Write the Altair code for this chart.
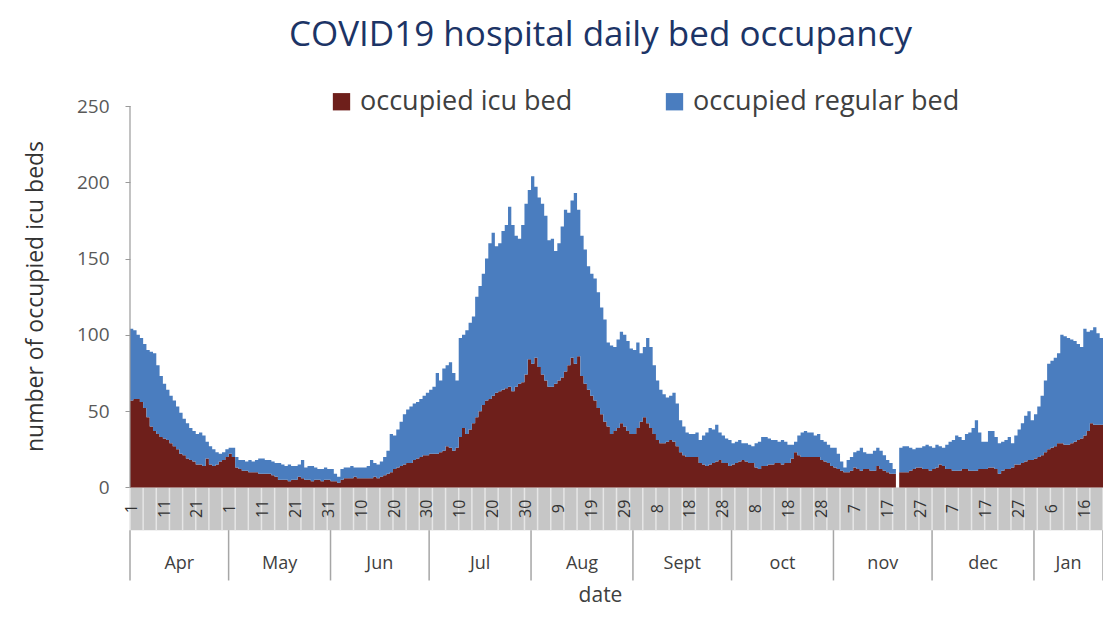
import altair as alt
import pandas as pd

# ---------------- data (one value per day, Apr 1 .. Jan 21) ----------------
icu = [
    57, 58, 58, 56, 52, 46, 40, 37, 35, 33,
    32, 31, 29, 27, 25, 22, 21, 19, 18, 17,
    15, 15, 14, 19, 15, 14, 15, 17, 18, 20,
    22, 20, 13, 12, 11, 11, 10, 10, 10, 9,
    9, 9, 9, 8, 7, 5, 5, 5, 4, 5,
    5, 7, 6, 5, 5, 4, 5, 5, 4, 5,
    5, 4, 4, 3, 5, 6, 6, 6, 7, 6,
    6, 6, 6, 6, 7, 6, 7, 8, 9, 10,
    12, 13, 14, 15, 16, 16, 18, 19, 20, 21,
    21, 22, 22, 22, 23, 24, 27, 26, 24, 26,
    33, 39, 35, 38, 42, 46, 50, 54, 57, 58,
    60, 62, 63, 64, 65, 66, 63, 66, 68, 69,
    74, 84, 81, 85, 79, 74, 70, 66, 66, 68,
    70, 72, 76, 80, 85, 81, 86, 73, 68, 64,
    60, 57, 52, 48, 43, 40, 35, 37, 39, 42,
    40, 37, 35, 35, 39, 43, 46, 42, 39, 35,
    31, 29, 29, 30, 31, 30, 27, 23, 21, 20,
    20, 20, 20, 16, 15, 14, 15, 16, 17, 18,
    16, 16, 14, 15, 16, 17, 18, 17, 16, 16,
    13, 12, 14, 14, 15, 15, 16, 16, 15, 16,
    16, 19, 23, 21, 20, 20, 20, 20, 20, 20,
    18, 17, 16, 14, 13, 12, 11, 10, 10, 11,
    13, 12, 11, 12, 12, 11, 11, 14, 12, 11,
    10, 9, 9, 0, 10, 10, 10, 11, 12, 13,
    13, 12, 12, 11, 12, 13, 15, 14, 12, 12,
    11, 11, 11, 12, 12, 11, 11, 11, 12, 12,
    12, 13, 13, 12, 9, 11, 12, 12, 13, 15,
    15, 16, 17, 18, 18, 19, 20, 21, 23, 25,
    26, 27, 29, 29, 28, 28, 29, 30, 31, 32,
    34, 37, 42, 41, 41, 41,
]

# top of the stack (icu + regular)
total_beds = [
    104, 103, 100, 98, 94, 90, 89, 88, 80, 73,
    68, 64, 60, 57, 53, 49, 45, 42, 39, 37,
    35, 36, 34, 30, 27, 25, 23, 22, 23, 25,
    26, 26, 20, 18, 18, 17, 18, 17, 18, 19,
    19, 18, 18, 17, 16, 16, 15, 14, 15, 14,
    14, 15, 18, 13, 14, 14, 13, 12, 12, 13,
    12, 12, 9, 7, 12, 13, 13, 14, 13, 13,
    13, 13, 14, 18, 16, 15, 17, 20, 24, 35,
    34, 38, 43, 48, 51, 53, 55, 56, 58, 60,
    62, 64, 66, 75, 70, 78, 80, 82, 75, 70,
    98, 100, 103, 108, 112, 125, 132, 140, 150, 160,
    167, 158, 160, 168, 172, 184, 172, 165, 163, 172,
    186, 195, 204, 197, 190, 186, 178, 162, 163, 155,
    160, 171, 182, 180, 188, 193, 182, 165, 156, 145,
    140, 137, 128, 118, 110, 95, 93, 92, 97, 102,
    100, 96, 91, 90, 95, 88, 92, 98, 92, 80,
    70, 64, 61, 59, 60, 62, 55, 44, 40, 36,
    35, 35, 36, 31, 34, 36, 39, 38, 41, 36,
    34, 32, 31, 29, 30, 31, 29, 29, 28, 27,
    29, 30, 33, 33, 32, 31, 31, 30, 31, 30,
    28, 28, 30, 34, 36, 37, 36, 36, 34, 35,
    31, 30, 28, 26, 26, 22, 17, 13, 18, 20,
    23, 24, 26, 23, 22, 22, 24, 26, 24, 21,
    18, 16, 12, 0, 26, 27, 27, 26, 25, 26,
    26, 27, 28, 27, 26, 28, 27, 26, 28, 30,
    31, 34, 33, 31, 35, 36, 39, 44, 36, 30,
    30, 37, 37, 33, 29, 30, 31, 33, 29, 34,
    38, 42, 47, 50, 44, 48, 53, 60, 70, 81,
    83, 85, 88, 100, 99, 98, 97, 96, 94, 92,
    104, 102, 103, 105, 101, 98,
]

series_names = ["occupied icu bed", "occupied regular bed"]
series_colors = ["#6e1f1b", "#4a7dbf"]

tick_days = list(range(0, 296, 10))
tick_labels = ["1", "11", "21", "1", "11", "21", "31", "10", "20", "30",
               "10", "20", "30", "9", "19", "29", "8", "18", "28", "8",
               "18", "28", "7", "17", "27", "7", "17", "27", "6", "16"]

month_names = ["Apr", "May", "Jun", "Jul", "Aug", "Sept", "oct", "nov", "dec", "Jan"]
month_start = [0, 30, 61, 91, 122, 153, 183, 214, 244, 275]

y_ticks = [0, 50, 100, 150, 200, 250]

# ---------------- tables ----------------
n_days = len(icu)
rows = []
days = list(range(n_days)) + [n_days]          # last entry closes the final day's step
for k, d in enumerate(days):
    j = min(k, n_days - 1)
    i, t = icu[j], total_beds[j]
    rows.append({"day": d, "series": series_names[0], "lo": 0, "hi": i})
    rows.append({"day": d, "series": series_names[1], "lo": i, "hi": t})
df = pd.DataFrame(rows)

BAND = -28
MONTH_BOTTOM = -62

ticks_df = pd.DataFrame({"x": [d + 0.5 for d in tick_days], "label": tick_labels})
ticks_df["y"] = BAND / 2
month_end = month_start[1:] + [n_days]
months_df = pd.DataFrame({
    "x": [(s + e) / 2 for s, e in zip(month_start, month_end)],
    "label": month_names,
})
months_df["y"] = (BAND + MONTH_BOTTOM) / 2 - 5
seps_df = pd.DataFrame({"x": month_start + [n_days]})
seps_df["y"] = BAND
seps_df["y2"] = MONTH_BOTTOM + 1
band_df = pd.DataFrame({"x": [0], "x2": [n_days], "y": [0], "y2": [BAND]})
stripes_df = pd.DataFrame({"x": list(range(0, n_days + 1, 4))})
stripes_df["y"] = 0
stripes_df["y2"] = BAND
axis_df = pd.DataFrame({"x": [0], "y": [y_ticks[0]], "y2": [y_ticks[-1]]})
date_df = pd.DataFrame({"x": [n_days / 2], "y": [MONTH_BOTTOM - 9.5], "label": ["date"]})

xs = alt.Scale(domain=[0, n_days], nice=False, zero=False)
ys = alt.Scale(domain=[MONTH_BOTTOM, 250], nice=False, zero=False)

FONT = "Open Sans"
TXT = "#404040"

y_axis = alt.Axis(values=y_ticks, domain=False, grid=False, ticks=True, tickSize=5,
                  tickColor="#9a9a9a", labelFontSize=19, labelColor="#595959",
                  labelFont=FONT, labelPadding=16,
                  title="number of occupied icu beds", titleFont=FONT, titleFontSize=23,
                  titleFontWeight="normal", titleColor="#333333", titleAngle=270,
                  titleX=-95, titleY=190, titleAlign="center", titleBaseline="middle")


def X(field):
    return alt.X(field, type="quantitative", scale=xs, axis=None)


def Y(field):
    return alt.Y(field, type="quantitative", scale=ys, axis=y_axis)


area = alt.Chart(df).mark_area(interpolate="step-after").encode(
    x=X("day"),
    y=Y("lo"),
    y2=alt.Y2("hi"),
    color=alt.Color("series", type="nominal",
                    scale=alt.Scale(domain=series_names, range=series_colors),
                    legend=alt.Legend(title=None, orient="none", direction="horizontal",
                                      legendX=198, legendY=-18, symbolType="square",
                                      symbolSize=300, symbolStrokeWidth=0, symbolOpacity=1,
                                      labelFont=FONT, labelFontSize=27, labelColor=TXT,
                                      labelLimit=500, labelOffset=5, columnPadding=88)),
)

axis_line = alt.Chart(axis_df).mark_rule(color="#9a9a9a", strokeWidth=1.2).encode(
    x=X("x"), y=Y("y"), y2=alt.Y2("y2"))

band = alt.Chart(band_df).mark_rect(color="#c6c6c6").encode(
    x=X("x"), x2=alt.X2("x2"), y=Y("y"), y2=alt.Y2("y2"))

stripes = alt.Chart(stripes_df).mark_rule(color="#e6e6e6", strokeWidth=1.5).encode(
    x=X("x"), y=Y("y"), y2=alt.Y2("y2"))

tick_text = alt.Chart(ticks_df).mark_text(angle=270, align="center", baseline="middle",
                                          font=FONT, fontSize=16, color="#333333").encode(
    x=X("x"), y=Y("y"), text=alt.Text("label", type="nominal"))

seps = alt.Chart(seps_df).mark_rule(color="#a6a6a6", strokeWidth=1.5).encode(
    x=X("x"), y=Y("y"), y2=alt.Y2("y2"))

month_text = alt.Chart(months_df).mark_text(align="center", baseline="middle",
                                            font=FONT, fontSize=18, color=TXT).encode(
    x=X("x"), y=Y("y"), text=alt.Text("label", type="nominal"))

date_text = alt.Chart(date_df).mark_text(align="center", baseline="middle", dx=-16,
                                         font=FONT, fontSize=21, color=TXT).encode(
    x=X("x"), y=Y("y"), text=alt.Text("label", type="nominal"))

chart = alt.layer(band, stripes, area, axis_line, tick_text, seps, month_text, date_text).properties(
    width=973,
    height=476,
    autosize=alt.AutoSizeParams(type="none"),
    padding={"left": 122, "top": 98, "right": 0, "bottom": 26},
    title=alt.TitleParams("COVID19 hospital daily bed occupancy", font=FONT, fontSize=35,
                          fontWeight="normal", color="#1c3466", anchor="middle", offset=35, dx=-16),
).configure_view(strokeWidth=0)

chart.save("out.html", embed_options={"renderer": "svg", "actions": False})
